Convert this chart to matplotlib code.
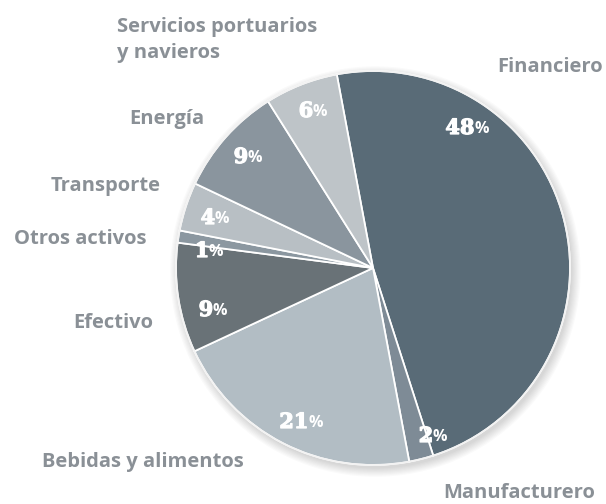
import matplotlib.pyplot as plt
import matplotlib.patheffects as pe
from matplotlib.patches import Circle

# data
sectores = ['Financiero', 'Manufacturero', 'Bebidas y alimentos', 'Efectivo',
            'Otros activos', 'Transporte', 'Energía', 'Servicios portuarios\ny navieros']
valores = [48, 2, 21, 9, 1, 4, 9, 6]
colores = ['#596b77', '#7e8b96', '#b2bdc4', '#697277',
           '#8b97a0', '#b8bfc4', '#8a959e', '#bec4c8']

# layout (pixel positions)
W, H = 606, 504
cx, cy, R = 373, 268, 197
pct_px = [(466, 128), (432, 436), (300, 422), (212, 310),
          (208, 251), (214, 218), (247, 157), (312, 111)]
lab_px = [(497, 67, 'left'), (595, 493, 'right'), (244, 462, 'right'), (153, 323, 'right'),
          (147, 239, 'right'), (161, 186, 'right'), (204, 119, 'right'), (117, 40, 'left')]


def d(px, py):
    return (px - cx) / R, (cy - py) / R


fig = plt.figure(figsize=(W / 100, H / 100), dpi=100)
ax = fig.add_axes([0, 0, 1, 1])
ax.set_aspect('equal')
ax.axis('off')

# soft shadow
for k in range(8):
    ax.add_patch(Circle((0.012, -0.018), 1.0 + k * 0.006, color='#000000',
                        alpha=0.018, lw=0, zorder=0))

ax.pie(valores, colors=colores, startangle=100.6, counterclock=False, radius=1,
       wedgeprops=dict(edgecolor='white', linewidth=1.3, zorder=2))
ax.add_patch(Circle((0, 0), 1.0, fill=False, ec='#f2f2f2', lw=1.2, zorder=3))
ax.set_xlim(-cx / R, (W - cx) / R)
ax.set_ylim(-(H - cy) / R, cy / R)

grueso = [pe.withStroke(linewidth=0.9, foreground='white')]
for v, (px, py) in zip(valores, pct_px):
    x, y = d(px - 6, py)
    t = ax.text(x, y, str(v), color='white', fontsize=15, fontweight='heavy',
                family='DejaVu Serif', ha='center', va='center', zorder=5,
                path_effects=grueso)
    ax.annotate('%', xy=(1, 0), xycoords=t, xytext=(-0.3, 1), textcoords='offset points',
                color='white', fontsize=11.5, fontweight='bold', family='Open Sans',
                ha='left', va='bottom', zorder=5)

for nombre, (px, py, ha) in zip(sectores, lab_px):
    x, y = d(px, py)
    ax.text(x, y, nombre, color='#8a9096', fontsize=14.5, fontweight='bold',
            family='Open Sans', ha=ha, va='center', linespacing=1.4)

fig.savefig('out.png', dpi=100)
